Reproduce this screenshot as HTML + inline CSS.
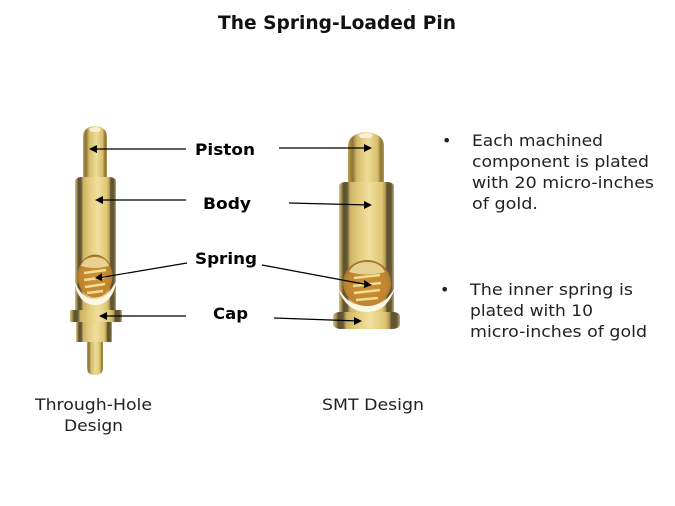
<!DOCTYPE html>
<html><head><meta charset="utf-8"><style>
html,body{margin:0;padding:0;background:#fff}
svg{display:block}
text{font-family:"DejaVu Sans","Liberation Sans",sans-serif;fill:#111}
.b{font-weight:bold;font-size:16px;fill:#000}
.t{font-size:16px;fill:#222}
</style></head><body>
<svg width="675" height="506" viewBox="0 0 675 506" xmlns="http://www.w3.org/2000/svg">
<defs>
<linearGradient id="g" x1="0" x2="1" y1="0" y2="0">
<stop offset="0" stop-color="#d8c384"/>
<stop offset=".05" stop-color="#a08a48"/>
<stop offset=".08" stop-color="#5c5232"/>
<stop offset=".15" stop-color="#655a36"/>
<stop offset=".2" stop-color="#cdb264"/>
<stop offset=".35" stop-color="#e3cb7c"/>
<stop offset=".55" stop-color="#efdf9e"/>
<stop offset=".78" stop-color="#e0c673"/>
<stop offset=".84" stop-color="#b99c50"/>
<stop offset=".87" stop-color="#5f5433"/>
<stop offset=".95" stop-color="#645936"/>
<stop offset="1" stop-color="#c7ad68"/>
</linearGradient>
<linearGradient id="p" x1="0" x2="1" y1="0" y2="0">
<stop offset="0" stop-color="#bda253"/>
<stop offset=".12" stop-color="#8a7336"/>
<stop offset=".25" stop-color="#d4b968"/>
<stop offset=".55" stop-color="#eedd99"/>
<stop offset=".82" stop-color="#d7bd6a"/>
<stop offset=".92" stop-color="#8a7336"/>
<stop offset="1" stop-color="#b59a4c"/>
</linearGradient>
<radialGradient id="w" cx=".5" cy=".55" r=".6">
<stop offset="0" stop-color="#cf9030"/>
<stop offset=".7" stop-color="#c08530"/>
<stop offset="1" stop-color="#94682a"/>
</radialGradient>
</defs>

<text x="218" y="29" style="font-weight:bold;font-size:19px" textLength="238" lengthAdjust="spacingAndGlyphs">The Spring-Loaded Pin</text>

<!-- left pin -->
<path d="M87 342H103V368Q103 375 95 375Q87 375 87 368Z" fill="url(#p)"/>
<path d="M76 320H112V342H76Z" fill="url(#g)"/>
<path d="M83 177V137Q83 127 95 126Q107 127 107 137V177Z" fill="url(#p)"/>
<path d="M89 129Q95 125 101 129L99 132H91Z" fill="#f6efd4"/>
<path d="M75 181Q76 177 82 177H109Q115 177 116 181V312H75Z" fill="url(#g)"/>
<rect x="70" y="310" width="52" height="12" rx="1" fill="url(#g)"/>
<path d="M74 280Q78 305 95 305Q112 305 117 280L112 288Q105 299 95 299Q84 299 78 288Z" fill="#fbf7e4"/>
<ellipse cx="95" cy="276" rx="17.500" ry="21.500" fill="url(#w)"/>
<path d="M81 266Q84 257 95 257Q106 257 109 266Q95 270 81 266Z" fill="#e6d190"/>
<g stroke="#f1dc96" stroke-width="2.500" fill="none">
<path d="M84 273L106 270"/><path d="M84 280L106 277"/><path d="M85 287L105 284"/><path d="M87 293L103 291"/>
</g>

<!-- right pin -->
<path d="M348 182V146Q348 134 366 132Q384 134 384 146V182Z" fill="url(#p)"/>
<path d="M358 135Q366 131 373 135L371 138H361Z" fill="#f6efd4"/>
<path d="M339 186Q340 182 346 182H387Q393 182 394 186V316H339Z" fill="url(#g)"/>
<path d="M333 316Q334 312 340 312H393Q399 312 400 316V325Q398 329 392 329H341Q335 329 333 325Z" fill="url(#g)"/>
<path d="M338 288Q346 312 367 312Q387 312 395 288L390 295Q382 306 367 306Q351 306 343 295Z" fill="#fbf7e4"/>
<ellipse cx="367" cy="283" rx="24" ry="23" fill="url(#w)"/>
<path d="M349 272Q354 262 367 262Q380 262 385 272Q367 277 349 272Z" fill="#e6d190"/>
<g stroke="#f1dc96" stroke-width="2.500" fill="none">
<path d="M354 278L380 275"/><path d="M353 286L381 283"/><path d="M354 293L380 290"/><path d="M356 300L378 298"/>
</g>

<!-- connectors -->
<g stroke="#000" stroke-width="1.200" fill="none">
<path d="M186 149H92"/><path d="M186 200H98"/><path d="M187 263L98 278"/><path d="M186 316H102"/>
<path d="M279 148H369"/><path d="M289 203L369 205"/><path d="M262 265L369 285"/><path d="M274 318L359 321"/>
</g>
<g fill="#000">
<path d="M89 149L97 145V153Z"/><path d="M95 200L103 196V204Z"/><path d="M95 278L102 273V281Z"/><path d="M99 316L107 312V320Z"/>
<path d="M372 148L364 144V152Z"/><path d="M372 205L364 201V209Z"/><path d="M372 285L364 280V288Z"/><path d="M362 321L354 317V325Z"/>
</g>

<text class="b" x="195" y="155" textLength="60" lengthAdjust="spacingAndGlyphs">Piston</text>
<text class="b" x="203" y="209" textLength="48" lengthAdjust="spacingAndGlyphs">Body</text>
<text class="b" x="195" y="264" textLength="62" lengthAdjust="spacingAndGlyphs">Spring</text>
<text class="b" x="213" y="319" textLength="35" lengthAdjust="spacingAndGlyphs">Cap</text>

<text class="t" x="35" y="410" textLength="117" lengthAdjust="spacingAndGlyphs">Through-Hole</text>
<text class="t" x="64" y="431" textLength="59" lengthAdjust="spacingAndGlyphs">Design</text>
<text class="t" x="322" y="410" textLength="102" lengthAdjust="spacingAndGlyphs">SMT Design</text>

<text class="t" x="442" y="146">•</text>
<text class="t" x="472" y="146" textLength="131" lengthAdjust="spacingAndGlyphs">Each machined</text>
<text class="t" x="472" y="167" textLength="177" lengthAdjust="spacingAndGlyphs">component is plated</text>
<text class="t" x="472" y="188" textLength="182" lengthAdjust="spacingAndGlyphs">with 20 micro-inches</text>
<text class="t" x="472" y="209" textLength="66" lengthAdjust="spacingAndGlyphs">of gold.</text>

<text class="t" x="440" y="295">•</text>
<text class="t" x="470" y="295" textLength="163" lengthAdjust="spacingAndGlyphs">The inner spring is</text>
<text class="t" x="470" y="316" textLength="123" lengthAdjust="spacingAndGlyphs">plated with 10</text>
<text class="t" x="470" y="337" textLength="177" lengthAdjust="spacingAndGlyphs">micro-inches of gold</text>
</svg>
</body></html>
